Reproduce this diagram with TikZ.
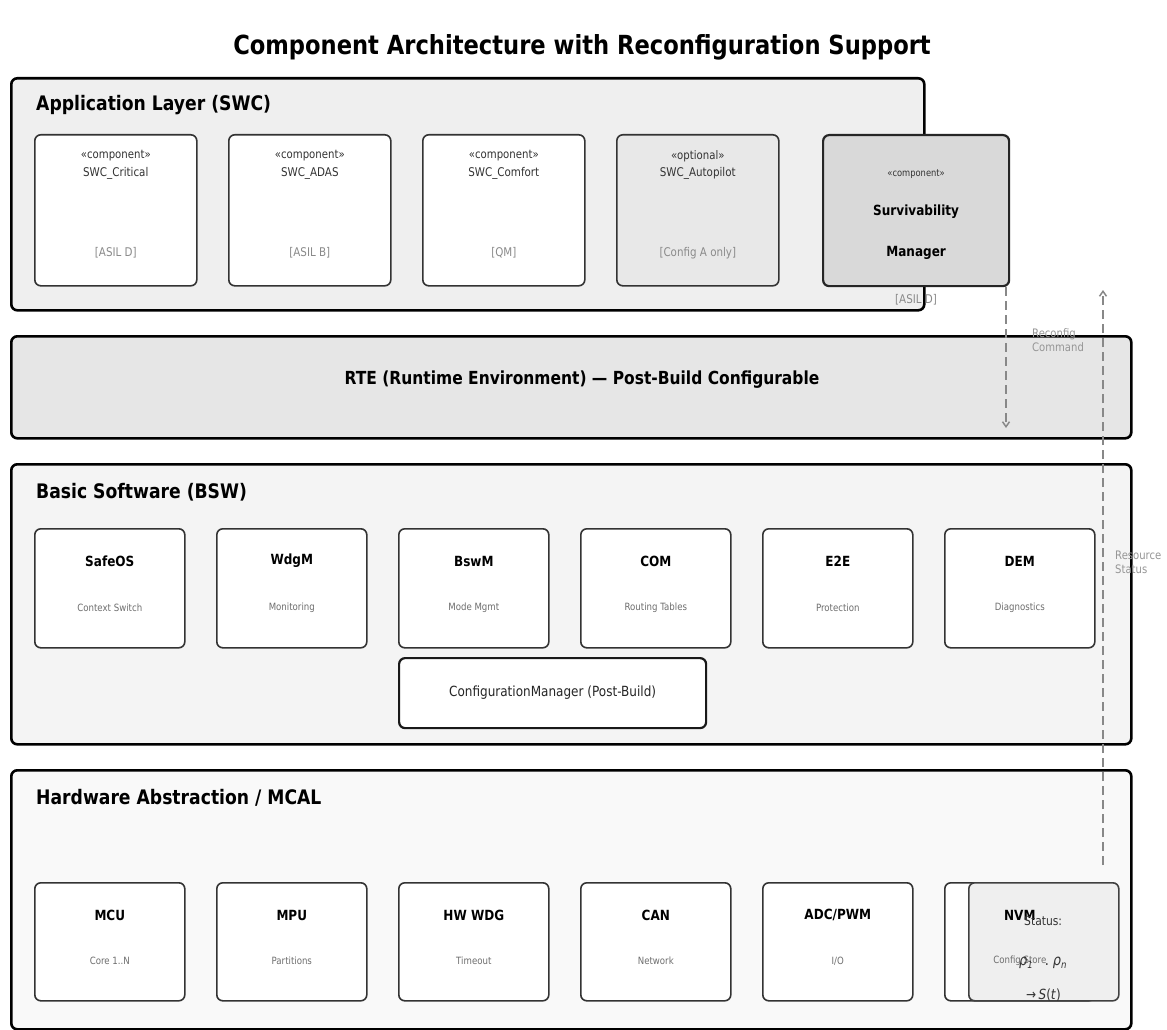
\documentclass[tikz,border=0pt]{standalone}
\usepackage{fontspec}
\setmainfont{DejaVu Sans}[FakeStretch=0.86]
\usetikzlibrary{arrows.meta,calc}
\definecolor{appfill}{HTML}{EFEFEF}
\definecolor{rtefill}{HTML}{E6E6E6}
\definecolor{bswfill}{HTML}{F4F4F4}
\definecolor{hwfill}{HTML}{F9F9F9}
\definecolor{optfill}{HTML}{E8E8E8}
\definecolor{survfill}{HTML}{D9D9D9}
\definecolor{subgray}{HTML}{6E6E6E}
\definecolor{taggray}{HTML}{8A8A8A}
\definecolor{linegray}{HTML}{888888}
\tikzset{
  layer/.style={draw=black, line width=2.6pt, rounded corners=6pt, anchor=north west, inner sep=0pt},
  modbox/.style={draw=black!80, line width=1.6pt, fill=white, rounded corners=6pt, anchor=north west, inner sep=0pt},
  layertitle/.style={anchor=west, font=\bfseries\fontsize{20}{23}\selectfont, inner sep=0pt},
  stereo/.style={font=\fontsize{11.8}{13}\selectfont, text=black!80, inner sep=0pt},
  cname/.style={font=\fontsize{12}{14}\selectfont, text=black!80, inner sep=0pt},
  tag/.style={font=\fontsize{12}{14}\selectfont, text=taggray, inner sep=0pt},
  mtitle/.style={font=\bfseries\fontsize{14}{16}\selectfont, inner sep=0pt},
  msub/.style={font=\fontsize{10}{12}\selectfont, text=subgray, inner sep=0pt},
  flow/.style={draw=linegray, line width=1.5pt, dash pattern=on 9pt off 5pt, -{Straight Barb[length=5pt,width=7pt]}},
  flowlabel/.style={font=\fontsize{11.7}{14}\selectfont, text=taggray!90, anchor=north west, align=left, inner sep=0pt},
  stattext/.style={font=\fontsize{12.5}{14}\selectfont, text=black!80, inner sep=0pt}
}
\begin{document}
\begin{tikzpicture}[x=1pt, y=-1pt]
\useasboundingbox[fill=white] (0,0) rectangle (1167,1030);

% Title
\node[font=\bfseries\fontsize{26.3}{30}\selectfont, inner sep=0pt] (title) at (582,47) {Component Architecture with Reconfiguration Support};

% ---------- Application layer ----------
\node[layer, fill=appfill, minimum width=913, minimum height=232] (app) at (10,77) {};
\node[layertitle] (apptitle) at (36,105) {Application Layer (SWC)};

\foreach \nm/\x/\st/\cn/\tg/\fc in {swcA/34/«component»/SWC\_Critical/{[ASIL D]}/white,
                                   swcB/228/«component»/SWC\_ADAS/{[ASIL B]}/white,
                                   swcC/422/«component»/SWC\_Comfort/{[QM]}/white,
                                   swcD/616/«optional»/SWC\_Autopilot/{[Config A only]}/optfill}{
  \node[modbox, fill=\fc, minimum width=162, minimum height=151] (\nm) at (\x,134) {};
  \node[stereo] (\nm-st) at ($(\nm.north)+(0,22)$) {\st};
  \node[cname] (\nm-nm) at ($(\nm.north)+(0,39)$) {\cn};
  \node[tag] (\nm-tg) at ($(\nm.north)+(0,119)$) {\tg};
}

% Survivability manager
\node[tag] (survtag) at (916,300) {[ASIL D]};
\node[modbox, fill=survfill, line width=2.2pt, draw=black!85, minimum width=186, minimum height=151] (surv) at (822,134) {};
\node[stereo, font=\fontsize{9.7}{11}\selectfont] (surv-st) at ($(surv.north)+(0,40)$) {«component»};
\node[mtitle] (surv-a) at ($(surv.north)+(0,78)$) {Survivability};
\node[mtitle] (surv-b) at ($(surv.north)+(0,119)$) {Manager};

% ---------- RTE ----------
\node[layer, fill=rtefill, minimum width=1120, minimum height=102] (rte) at (10,335) {};
\node[font=\bfseries\fontsize{18}{21}\selectfont, inner sep=0pt] (rtetitle) at (582,380) {RTE (Runtime Environment) — Post-Build Configurable};

% ---------- Basic software ----------
\node[layer, fill=bswfill, minimum width=1120, minimum height=280] (bsw) at (10,463) {};
\node[layertitle] (bswtitle) at (36,492) {Basic Software (BSW)};

\foreach \nm/\x/\tt/\sb in {safeos/34/SafeOS/Context Switch,
                           wdgm/216/WdgM/Monitoring,
                           bswm/398/BswM/Mode Mgmt,
                           com/580/COM/Routing Tables,
                           e2e/762/E2E/Protection,
                           dem/944/DEM/Diagnostics}{
  \node[modbox, minimum width=150, minimum height=119] (\nm) at (\x,528) {};
  \node[mtitle] (\nm-t) at ($(\nm.north)+(0,33)$) {\tt};
  \node[msub] (\nm-s) at ($(\nm.north)+(0,80)$) {\sb};
}

\node[modbox, line width=2.2pt, draw=black!90, minimum width=307, minimum height=70] (cfgmgr) at (398,657) {};
\node[font=\fontsize{14}{16}\selectfont, text=black!85, inner sep=0pt] (cfgmgr-t) at (cfgmgr.center) {ConfigurationManager (Post-Build)};

% ---------- Hardware abstraction ----------
\node[layer, fill=hwfill, minimum width=1120, minimum height=259] (hw) at (10,769) {};
\node[layertitle] (hwtitle) at (36,798) {Hardware Abstraction / MCAL};

\foreach \nm/\x/\tt/\sb in {mcu/34/MCU/Core 1..N,
                           mpu/216/MPU/Partitions,
                           hwwdg/398/HW WDG/Timeout,
                           can/580/CAN/Network,
                           adc/762/{ADC/PWM}/{I/O}}{
  \node[modbox, minimum width=150, minimum height=118] (\nm) at (\x,882) {};
  \node[mtitle] (\nm-t) at ($(\nm.north)+(0,33)$) {\tt};
  \node[msub] (\nm-s) at ($(\nm.north)+(0,79)$) {\sb};
}

% NVM box, partly covered by the status panel
\node[modbox, minimum width=150, minimum height=118] (nvm) at (944,882) {};
\node[modbox, fill=appfill, draw=black!75, minimum width=150, minimum height=118] (status) at (968,882) {};
\node[mtitle] (nvm-t) at ($(nvm.north)+(0,33)$) {NVM};
\node[msub] (nvm-s) at ($(nvm.north)+(0,79)$) {Config Store};

% Status panel text
\node[stattext, anchor=west] (status-a) at (1024,921) {Status:};
\node[stattext, anchor=west, font=\fontsize{15}{16}\selectfont] (status-b) at (1019,963) {\itshape ρ\raisebox{-3pt}{\fontsize{10}{10}\selectfont 1}\hspace{12pt}\upshape .\hspace{4pt}\itshape ρ\raisebox{-3pt}{\fontsize{10}{10}\selectfont n}};
\node[stattext, anchor=west, font=\fontsize{14}{16}\selectfont] (status-c) at (1026,995) {→\,\textit{S}(\textit{t})};

% ---------- Reconfiguration connectors ----------
\coordinate (rcStart) at (1006,287);
\coordinate (rcEnd) at (1006,428);
\draw[flow] (rcStart) -- (rcEnd);
\node[flowlabel] (rclabel) at (1032,328) {Reconfig\\Command};

\coordinate (rsStart) at (1103,865);
\coordinate (rsEnd) at (1103,290);
\draw[flow] (rsStart) -- (rsEnd);
\node[flowlabel] (rslabel) at (1115,551) {Resource\\Status};
\end{tikzpicture}
\end{document}
